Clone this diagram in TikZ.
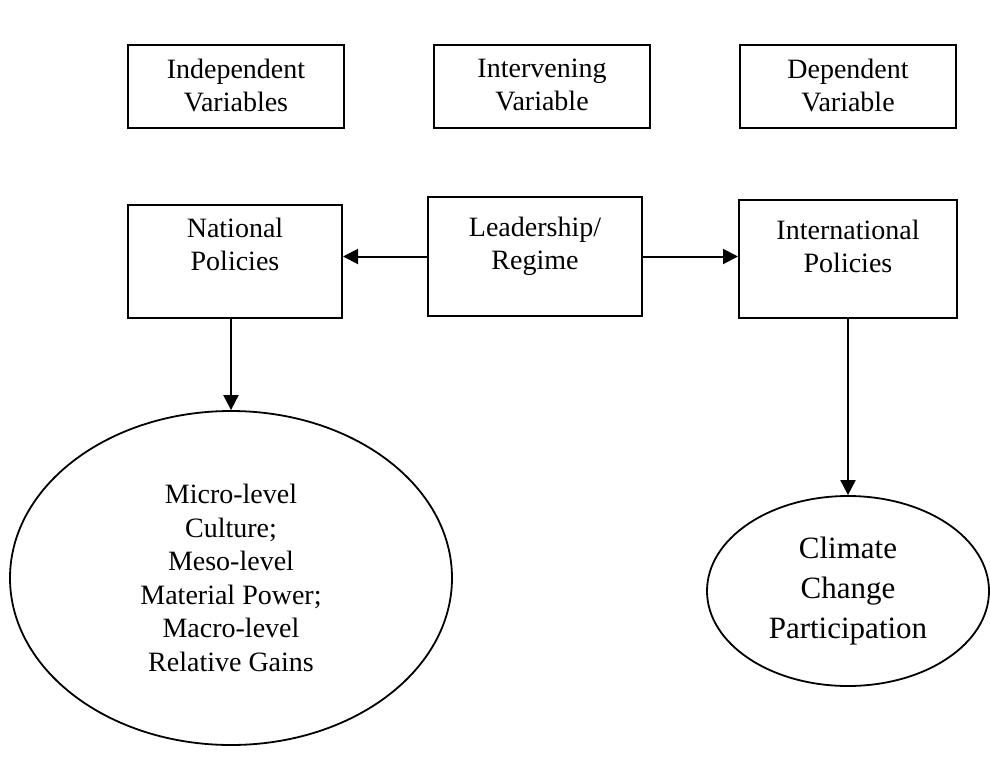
\documentclass[tikz,border=0pt]{standalone}
\usepackage{fontspec}
\setmainfont{Liberation Serif}
\usetikzlibrary{arrows.meta,shapes.geometric}

\begin{document}
\begin{tikzpicture}[x=1pt,y=-1pt,>={Triangle[length=15pt,width=15pt]},
  varbox/.style={draw,line width=2pt,inner sep=0pt,font=\fontsize{28}{33}\selectfont},
  varoval/.style={draw,ellipse,line width=1.8pt,inner sep=0pt,align=center},
  link/.style={->,line width=2pt}]
\useasboundingbox (0,0) rectangle (990,760);
% variable types
\node[varbox] (indep) at (236,86.5) {\parbox[c][83pt][t]{216pt}{\centering\vspace*{14pt}Independent\\Variables}};
\node[varbox] (interv) at (542,86.5) {\parbox[c][83pt][t]{216pt}{\centering\vspace*{14pt}Intervening\\Variable}};
\node[varbox] (dep) at (848,86.5) {\parbox[c][83pt][t]{216pt}{\centering\vspace*{14pt}Dependent\\Variable}};
% policies
\node[varbox] (natpol) at (235,261.5) {\parbox[c][113pt][t]{214pt}{\centering\vspace*{13pt}National\\Policies}};
\node[varbox] (lead) at (535,256.5) {\parbox[c][119pt][t]{214pt}{\centering\vspace*{20pt}Leadership/\\Regime}};
\node[varbox] (intpol) at (848,259) {\parbox[c][118pt][t]{218pt}{\centering\vspace*{20pt}International\\Policies}};
% outcomes
\node[varoval,minimum width=442pt,minimum height=334pt,font=\fontsize{28}{33.5}\selectfont] (levels) at (231,578)
  {Micro-level\\Culture;\\Meso-level\\Material Power;\\Macro-level\\Relative Gains};
\node[varoval,minimum width=282pt,minimum height=190pt,font=\fontsize{31}{40}\selectfont] (climate) at (848,591)
  {Climate\\Change\\Participation};
\draw[link] (lead.west) -- (lead.west -| natpol.east);
\draw[link] (lead.east) -- (lead.east -| intpol.west);
\draw[link] (levels.north |- natpol.south) -- (levels.north);
\draw[link] (intpol.south) -- (climate.north);
\end{tikzpicture}
\end{document}
